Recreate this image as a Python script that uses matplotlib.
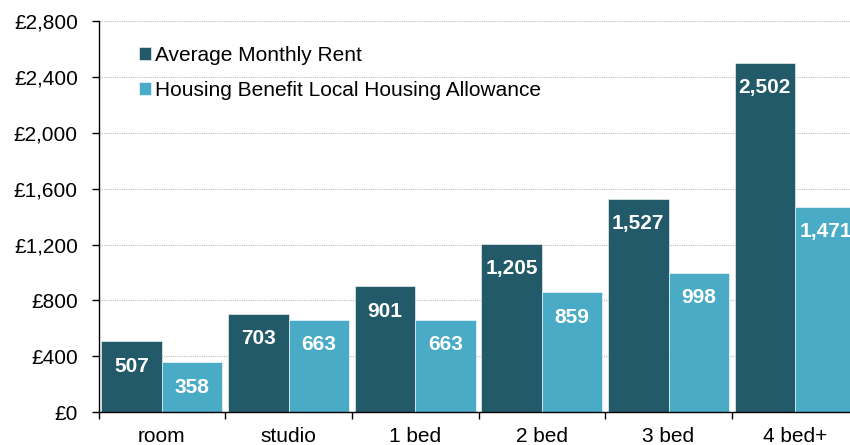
import matplotlib.pyplot as plt
import numpy as np

# Data
categories = ['room', 'studio', '1 bed', '2 bed', '3 bed', '4 bed+']
avg_rent = [507, 703, 901, 1205, 1527, 2502]
lha = [358, 663, 663, 859, 998, 1471]
series_names = ['Average Monthly Rent', 'Housing Benefit Local Housing Allowance']
yticks = [0, 400, 800, 1200, 1600, 2000, 2400, 2800]

dark = '#225a69'
light = '#4aabc6'

plt.rcParams['font.family'] = ['Liberation Sans', 'DejaVu Sans']

fig = plt.figure(figsize=(8.5, 4.45), dpi=100)
ax = fig.add_axes([0.116, 0.074, 0.894, 0.878])

x = np.arange(len(categories))
w = 0.478
b1 = ax.bar(x - w/2, avg_rent, w, color=dark, edgecolor='white', linewidth=0.4,
            label=series_names[0], zorder=2)
b2 = ax.bar(x + w/2, lha, w, color=light, edgecolor='white', linewidth=0.4,
            label=series_names[1], zorder=2)

for bars, vals in [(b1, avg_rent), (b2, lha)]:
    for r, v in zip(bars, vals):
        ax.annotate('{:,}'.format(v), (r.get_x() + r.get_width()/2, v),
                    xytext=(0, -18), textcoords='offset points',
                    ha='center', va='center', color='white',
                    fontsize=15, fontweight='bold', zorder=3)

ax.set_xlim(-0.5, len(categories) - 0.5)
ax.set_ylim(0, 2800)
ax.set_yticks(yticks)
ax.set_yticklabels(['£{:,}'.format(t) for t in yticks], fontsize=15)
ax.yaxis.grid(True, linestyle=(0, (1, 1)), color='#bbbbbb', linewidth=0.8, zorder=0)
ax.set_axisbelow(True)

# category labels centred, ticks on group boundaries
ax.set_xticks(np.arange(len(categories) + 1) - 0.5)
ax.set_xticklabels([])
ax.set_xticks(x, minor=True)
ax.set_xticklabels(categories, minor=True, fontsize=15)
ax.tick_params(axis='x', which='minor', length=0, pad=11)
ax.tick_params(axis='x', which='major', length=5, width=1, direction='out')
ax.tick_params(axis='y', length=5, width=1, direction='out', pad=10)

ax.spines['top'].set_visible(False)
ax.spines['right'].set_visible(False)
ax.spines['left'].set_linewidth(1)
ax.spines['bottom'].set_linewidth(1)

ax.legend(loc='upper left', bbox_to_anchor=(0.028, 0.985), frameon=False,
          fontsize=15, handlelength=0.6, handleheight=0.6, handletextpad=0.2,
          labelspacing=0.75)

plt.savefig('out.png', dpi=100)
